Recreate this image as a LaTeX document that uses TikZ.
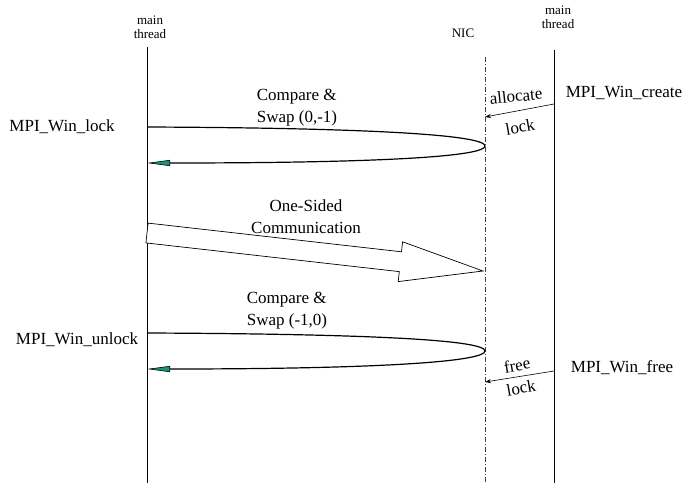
\documentclass[tikz,border=0pt]{standalone}
\usepackage{fontspec}
\setmainfont{Liberation Serif}
\usetikzlibrary{arrows.meta}
\definecolor{tipteal}{RGB}{20,150,120}
\tikzset{
  lifeline/.style={line width=0.9pt, black},
  nicline/.style={line width=0.7pt, black!75, dash pattern=on 5pt off 2pt on 1pt off 2pt},
  small/.style={font=\fontsize{13}{14}\selectfont, align=center, inner sep=0pt},
  big/.style={font=\fontsize{17}{22}\selectfont, inner sep=0pt},
  cas/.style={line width=1.2pt, -{Triangle[length=23pt,width=6pt,fill=tipteal,line width=0.6pt]}},
  msg/.style={line width=0.6pt, -{Stealth[length=6pt,width=4pt]}},
  bulk/.style={line width=0.7pt, fill=white, draw=black, line join=miter},
}
\begin{document}
\begin{tikzpicture}[x=1pt,y=-1pt]
\useasboundingbox (0,0) rectangle (685,483);

% lifeline headers
\node[small] (lhead) at (150,27) {main\\thread};
\node[small] (nic) at (463,33) {NIC};
\node[small] (rhead) at (558,17) {main\\thread};

% lifelines
\coordinate (ltop) at (147,47);  \coordinate (lbot) at (147,483);
\coordinate (ntop) at (485,57);  \coordinate (nbot) at (485,483);
\coordinate (rtop) at (554,50);  \coordinate (rbot) at (554,483);
\draw[lifeline] (ltop) -- (lbot);
\draw[lifeline] (rtop) -- (rbot);
\draw[nicline] (ntop) -- (nbot);

% operation labels
\node[big] (lock) at (62,127) {MPI\_Win\_lock};
\node[big] (unlock) at (77,340) {MPI\_Win\_unlock};
\node[big] (create) at (624,93) {MPI\_Win\_create};
\node[big] (free) at (622,368) {MPI\_Win\_free};

% window creation: allocate lock on the NIC
\coordinate (a1) at (554,104);
\coordinate (a2) at (485,117);
\draw[msg] (a1) -- (a2);
\node[big, rotate=6] (alloc) at (516,96) {allocate};
\node[big, rotate=10] (alock) at (520,127) {lock};

% window free: release lock on the NIC
\coordinate (f1) at (554,371);
\coordinate (f2) at (485,382);
\draw[msg] (f1) -- (f2);
\node[big, rotate=10] (ffree) at (517,365) {free};
\node[big, rotate=10] (flock) at (521,388) {lock};

% compare & swap for lock
\coordinate (c1s) at (147,127);
\coordinate (c1t) at (485,146);
\coordinate (c1e) at (147,163);
\draw[cas] (c1s) .. controls (390,128) and (485,136) .. (c1t)
                 .. controls (485,156) and (390,163) .. (c1e);
\node[big, align=left] (cas1) at (297,108) {Compare \&\\Swap (0,-1)};

% compare & swap for unlock
\coordinate (c2s) at (147,333);
\coordinate (c2t) at (485,351);
\coordinate (c2e) at (147,369);
\draw[cas] (c2s) .. controls (390,334) and (485,341) .. (c2t)
                 .. controls (485,361) and (390,369) .. (c2e);
\node[big, align=left] (cas2) at (287,311) {Compare \&\\Swap (-1,0)};

% one-sided communication block arrow
\draw[bulk] (148.1,223.1) -- (401.5,251.8) -- (402.6,241.8) -- (483,271)
            -- (398.2,281.6) -- (399.3,271.6) -- (145.9,242.9) -- cycle;
\node[big, align=center] (osc) at (306,217) {One-Sided\\Communication};
\end{tikzpicture}
\end{document}
